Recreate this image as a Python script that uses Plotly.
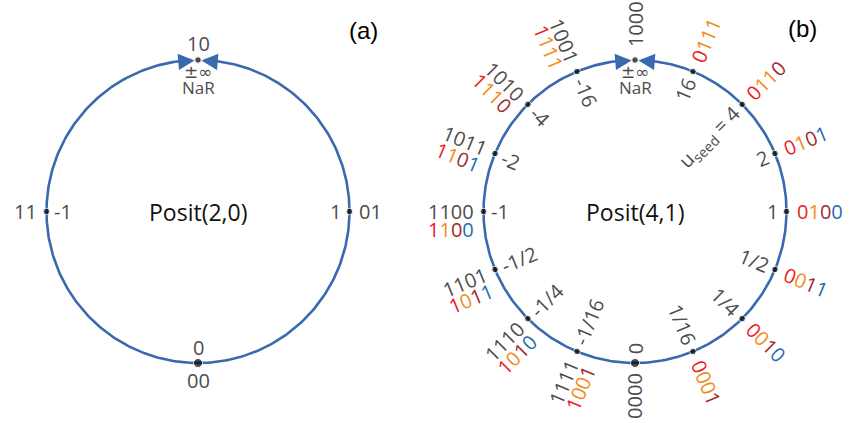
import numpy as np
import plotly.graph_objects as go

# ---------------- data ----------------
# Posit(2,0): angles (deg) of the 4 points, codes and values
a_angles = [0, 90, 180, 270]
a_codes = ["01", "10", "11", "00"]
a_values = ["1", "", "-1", "0"]

# Posit(4,1): 16 points, k*22.5 deg counter-clockwise from the right
b_codes = ["0100", "0101", "0110", "0111", "1000", "1001", "1010", "1011",
           "1100", "1101", "1110", "1111", "0000", "0001", "0010", "0011"]
b_values = ["1", "2", "u<sub>seed</sub> = 4", "16", "", "-16", "-4", "-2",
            "-1", "-1/2", "-1/4", "-1/16", "0", "1/16", "1/4", "1/2"]
b_abs_bits = ["0100", "0101", "0110", "0111", "", "1111", "1110", "1101",
              "1100", "1011", "1010", "1001", "", "0001", "0010", "0011"]
b_fields = ["sref", "sref", "srre", "srrr", "", "srrr", "srre", "sref",
            "sref", "sref", "sref", "srre", "", "srre", "sref", "sref"]
nar_labels = ["±∞", "NaR"]
titles = ["Posit(2,0)", "Posit(4,1)"]
panel_tags = ["(a)", "(b)"]

# ---------------- style ----------------
W, H = 857, 423
CY, R = 211.5, 151.5
CX = [198, 635]
LINE = "#3a69ad"
GRAY = "#4d4d4d"
FIELD_COL = {"s": "#ec1c24", "r": "#f08c1a", "e": "#9e2b2d", "f": "#1f6db5"}
FONT = "Open Sans"
FS = 20
CW = {"-": 0.322, "/": 0.367, " ": 0.26, "=": 0.572, "u": 0.62}


def text_w(s, fs=FS):
    s = s.replace("<sub>seed</sub>", "")
    w = sum(CW.get(c, 0.572) for c in s) * fs
    if "u" in s:
        w += 4 * 0.55 * fs * 0.7
    return w


def colored(bits, fields):
    return "".join(f'<span style="color:{FIELD_COL[f]}">{b}</span>'
                   for b, f in zip(bits, fields))


fig = go.Figure()
ann = []


def pt(cx, phi, r=R):
    t = np.deg2rad(phi)
    return cx + r * np.cos(t), CY - r * np.sin(t)


def add_text(x, y, text, angle=0, size=FS, color=GRAY, family=FONT):
    ann.append(dict(x=x, y=y, text=text, textangle=angle, showarrow=False,
                    xanchor="center", yanchor="middle",
                    font=dict(family=family, size=size, color=color)))


# circles (arcs leaving a gap at the top for the arrowheads)
for cx in CX:
    th = np.deg2rad(np.linspace(92.5, 87.5 + 360, 400))
    fig.add_trace(go.Scatter(x=cx + R * np.cos(th), y=CY - R * np.sin(th),
                             mode="lines", line=dict(color=LINE, width=2.6),
                             hoverinfo="skip"))
    for sgn in (-1, 1):
        ann.append(dict(x=cx + sgn * 3.5, y=CY - R + 0.5, ax=sgn * 17, ay=1.4,
                        text="", showarrow=True, arrowhead=2, arrowsize=1.25,
                        arrowwidth=2.6, arrowcolor=LINE, standoff=0))
    # NaR labels
    add_text(cx, CY - R + 11.5, nar_labels[0], size=17, family="DejaVu Sans")
    add_text(cx, CY - R + 27, nar_labels[1], size=17)

# dots
for i, cx in enumerate(CX):
    angs = a_angles if i == 0 else [22.5 * k for k in range(16)]
    xs, ys, ss = [], [], []
    for phi in angs:
        x, y = pt(cx, phi)
        xs.append(x); ys.append(y)
        ss.append(9 if abs(phi - 270) < 1e-6 else 6.5)
    fig.add_trace(go.Scatter(x=xs, y=ys, mode="markers",
                             marker=dict(color="black", size=ss),
                             hoverinfo="skip"))

# ---- panel (a) labels (horizontal)
cx = CX[0]
for phi, code, val in zip(a_angles, a_codes, a_values):
    x, y = pt(cx, phi)
    if phi == 0:
        add_text(x + 10 + text_w(code) / 2, y, code)
        add_text(x - 8 - text_w(val) / 2, y, val)
    elif phi == 180:
        add_text(x - 10 - text_w(code) / 2, y, code)
        add_text(x + 8 + text_w(val) / 2, y, val)
    elif phi == 90:
        add_text(x, y - 17, code)
    else:
        add_text(x, y + 17, code)
        add_text(x, y - 16, val)

# ---- panel (b) labels (radial)
cx = CX[1]
for k in range(16):
    phi = 22.5 * k
    x0, y0 = pt(cx, phi)
    ux, uy = np.cos(np.deg2rad(phi)), -np.sin(np.deg2rad(phi))  # outward
    ang = (-phi + 90) % 180 - 90  # in [-90, 90)
    if k == 4:
        ang = -90
    code = b_codes[k]
    val = b_values[k]
    # inner value label
    if val:
        d = 8 + text_w(val) / 2
        add_text(x0 - ux * d, y0 - uy * d, val, angle=ang)
    # outer bit strings
    d = (13 if k == 4 else 10) + text_w(code) / 2
    xo, yo = x0 + ux * d, y0 + uy * d
    if k in (4, 12):
        add_text(xo, yo, code, angle=ang)
    elif np.cos(np.deg2rad(phi)) > 0.01:
        add_text(x0 + ux * (d + 1), y0 + uy * (d + 1),
                 colored(b_abs_bits[k], b_fields[k]), angle=ang)
    else:
        add_text(xo, yo, code, angle=ang)
        t = np.deg2rad(ang)
        dx, dy = -np.sin(t), np.cos(t)
        add_text(xo + 17.5 * dx, yo + 17.5 * dy,
                 colored(b_abs_bits[k], b_fields[k]), angle=ang)

# titles and panel tags
for cx, t in zip(CX, titles):
    add_text(cx, CY, t, size=23, color="#111111")
add_text(363, 30, panel_tags[0], size=24, color="black", family="Liberation Sans")
add_text(802, 28, panel_tags[1], size=24, color="black", family="Liberation Sans")

fig.update_layout(
    width=W, height=H, margin=dict(l=0, r=0, t=0, b=0),
    paper_bgcolor="white", plot_bgcolor="white", showlegend=False,
    xaxis=dict(range=[0, W], visible=False, fixedrange=True),
    yaxis=dict(range=[H, 0], visible=False, fixedrange=True),
    annotations=ann,
)
fig.write_html("out.html")
